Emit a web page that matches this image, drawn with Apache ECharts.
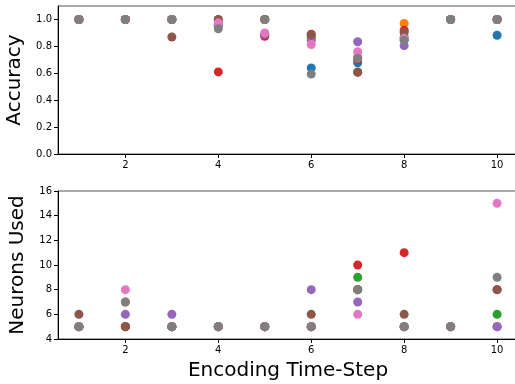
<!DOCTYPE html>
<html>
<head>
<meta charset="utf-8">
<script src="https://cdn.jsdelivr.net/npm/echarts@6/dist/echarts.min.js"></script>
<style>
  html, body { margin: 0; padding: 0; background: #fff; }
  #chart { width: 515px; height: 384px; }
</style>
</head>
<body>
<div id="chart"></div>
<script>
// Encoding time-steps on the shared x axis
const timeSteps = [1, 2, 3, 4, 5, 6, 7, 8, 9, 10];
const xTicks = [2, 4, 6, 8, 10];
const accTicks = [0, 0.2, 0.4, 0.6, 0.8, 1.0];

// One run per colour (tab10 order)
const runNames = ['run0', 'run1', 'run2', 'run3', 'run4', 'run5', 'run6', 'run7'];
const runColors = ['#1f77b4', '#ff7f0e', '#2ca02c', '#d62728', '#9467bd', '#8c564b', '#e377c2', '#7f7f7f'];

// Accuracy per run at each time-step
const acc0 = [1.0, 1.0, 1.0, 0.955, 1.0, 0.64, 0.678, 0.85, 1.0, 0.883];
const acc1 = [1.0, 1.0, 1.0, 1.0, 1.0, 0.855, 0.72, 0.97, 1.0, 1.0];
const acc2 = [1.0, 1.0, 1.0, 0.97, 0.88, 0.87, 0.61, 0.87, 1.0, 1.0];
const acc3 = [1.0, 1.0, 1.0, 0.61, 0.875, 0.89, 0.70, 0.92, 1.0, 1.0];
const acc4 = [1.0, 1.0, 1.0, 0.955, 0.89, 0.845, 0.834, 0.805, 1.0, 1.0];
const acc5 = [1.0, 1.0, 0.87, 1.0, 1.0, 0.885, 0.607, 0.903, 1.0, 1.0];
const acc6 = [1.0, 1.0, 1.0, 0.975, 0.9, 0.814, 0.76, 0.86, 1.0, 1.0];
const acc7 = [1.0, 1.0, 1.0, 0.93, 1.0, 0.594, 0.71, 0.846, 1.0, 1.0];

// Neurons used per run at each time-step
const neu0 = [5, 5, 5, 5, 5, 5, 8, 5, 5, 5];
const neu1 = [5, 7, 5, 5, 5, 5, 8, 5, 5, 5];
const neu2 = [5, 5, 5, 5, 5, 5, 9, 5, 5, 6];
const neu3 = [5, 5, 5, 5, 5, 5, 10, 11, 5, 8];
const neu4 = [5, 6, 6, 5, 5, 8, 7, 5, 5, 5];
const neu5 = [6, 5, 5, 5, 5, 6, 8, 6, 5, 8];
const neu6 = [5, 8, 5, 5, 5, 5, 6, 5, 5, 15];
const neu7 = [5, 7, 5, 5, 5, 5, 8, 5, 5, 9];

const accRuns = [acc0, acc1, acc2, acc3, acc4, acc5, acc6, acc7];
const neuRuns = [neu0, neu1, neu2, neu3, neu4, neu5, neu6, neu7];

const font = 'DejaVu Sans';

function pairs(ys) {
  return timeSteps.map((x, i) => [x, ys[i]]);
}

function scatter(name, color, ys, axisIndex) {
  return {
    type: 'scatter',
    name: name,
    xAxisIndex: axisIndex,
    yAxisIndex: axisIndex,
    data: pairs(ys),
    symbol: 'circle',
    symbolSize: 9,
    itemStyle: { color: color, opacity: 1 },
    emphasis: { disabled: true },
    silent: true
  };
}

function xAxisDef(gridIndex, withName) {
  return {
    type: 'value',
    gridIndex: gridIndex,
    min: 0.55,
    max: 10.45,
    splitLine: { show: false },
    axisLine: { show: true, lineStyle: { color: '#000', width: 1 } },
    axisTick: { show: true, inside: false, length: 4, customValues: xTicks, lineStyle: { color: '#000' } },
    axisLabel: { show: true, customValues: xTicks, margin: 6, color: '#000', fontSize: 10, fontFamily: font },
    name: withName ? 'Encoding Time-Step' : '',
    nameLocation: 'middle',
    nameGap: 22,
    nameTextStyle: { color: '#000', fontSize: 20, fontFamily: font }
  };
}

const series = [];
accRuns.forEach((ys, i) => series.push(scatter(runNames[i], runColors[i], ys, 0)));
neuRuns.forEach((ys, i) => series.push(scatter(runNames[i], runColors[i], ys, 1)));

const gridBase = {
  left: 58, width: 460, height: 148,
  outerBoundsMode: 'none', containLabel: false,
  show: true, borderColor: '#555', borderWidth: 1, backgroundColor: 'transparent'
};

const chart = echarts.init(document.getElementById('chart'), null, { renderer: 'canvas' });
chart.setOption({
  animation: false,
  backgroundColor: '#fff',
  grid: [
    Object.assign({}, gridBase, { top: 6 }),
    Object.assign({}, gridBase, { top: 191 })
  ],
  xAxis: [xAxisDef(0, false), xAxisDef(1, true)],
  yAxis: [
    {
      type: 'value',
      gridIndex: 0,
      min: 0,
      max: 1.1,
      splitLine: { show: false },
      axisLine: { show: true, lineStyle: { color: '#000', width: 1 } },
      axisTick: { show: true, length: 4, customValues: accTicks, lineStyle: { color: '#000' } },
      axisLabel: {
        show: true, customValues: accTicks, margin: 6, color: '#000', fontSize: 10, fontFamily: font,
        formatter: v => v.toFixed(1)
      },
      name: 'Accuracy',
      nameLocation: 'middle',
      nameRotate: 90,
      nameGap: 30,
      nameTextStyle: { color: '#000', fontSize: 20, fontFamily: font }
    },
    {
      type: 'value',
      gridIndex: 1,
      min: 4,
      max: 16,
      interval: 2,
      splitLine: { show: false },
      axisLine: { show: true, lineStyle: { color: '#000', width: 1 } },
      axisTick: { show: true, length: 4, lineStyle: { color: '#000' } },
      axisLabel: { show: true, margin: 6, color: '#000', fontSize: 10, fontFamily: font },
      name: 'Neurons Used',
      nameLocation: 'middle',
      nameRotate: 90,
      nameGap: 30,
      nameTextStyle: { color: '#000', fontSize: 20, fontFamily: font }
    }
  ],
  series: series
});
</script>
</body>
</html>
